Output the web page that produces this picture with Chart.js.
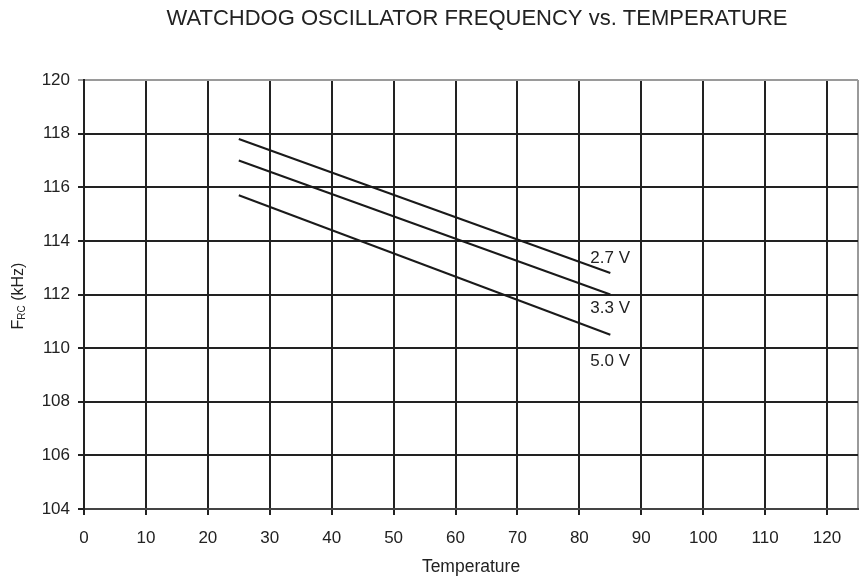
<!DOCTYPE html>
<html>
<head>
<meta charset="utf-8">
<script src="https://cdn.jsdelivr.net/npm/chart.js@4/dist/chart.umd.min.js"></script>
<style>
  html, body { margin: 0; padding: 0; background: #fff; }
  #wrap { width: 859px; height: 579px; position: relative; }
</style>
</head>
<body>
<div id="wrap"><canvas id="c" width="859" height="579"></canvas></div>
<script>
// ---- data ----
const chartTitle = 'WATCHDOG OSCILLATOR FREQUENCY vs. TEMPERATURE';
const xAxisTitle = 'Temperature';
const temperatures = [25, 85];
const freq27 = [117.8, 112.8];
const freq33 = [117.0, 112.0];
const freq50 = [115.7, 110.5];
const seriesNames = ['2.7 V', '3.3 V', '5.0 V'];
const xTickValues = [0, 10, 20, 30, 40, 50, 60, 70, 80, 90, 100, 110, 120];
const yTickValues = [104, 106, 108, 110, 112, 114, 116, 118, 120];
const xMin = 0, xMax = 125;
const yMin = 104, yMax = 120;

const FONT = '"Liberation Sans", Arial, sans-serif';
const INK = '#222';
const LIGHT = '#9a9a9a';

function pts(ys) { return temperatures.map((t, i) => ({ x: t, y: ys[i] })); }

const labelOffsets = [[-20, -10], [-20, 18], [-20, 31]];

const decorPlugin = {
  id: 'decor',
  afterDatasetsDraw(chart) {
    const ctx = chart.ctx;
    ctx.save();
    // series labels
    ctx.fillStyle = INK;
    ctx.font = '17px ' + FONT;
    ctx.textAlign = 'left';
    ctx.textBaseline = 'alphabetic';
    chart.data.datasets.forEach((ds, i) => {
      const meta = chart.getDatasetMeta(i);
      const p = meta.data[meta.data.length - 1];
      const off = labelOffsets[i];
      ctx.fillText(ds.label, p.x + off[0], p.y + off[1]);
    });
    // title
    ctx.font = '22px ' + FONT;
    ctx.textAlign = 'center';
    ctx.fillText(chartTitle, 477, 25);
    // y axis title with subscript
    ctx.translate(23, 296);
    ctx.rotate(-Math.PI / 2);
    const f1 = '16px ' + FONT, f2 = '10px ' + FONT;
    ctx.font = f1; const wF = ctx.measureText('F').width;
    const wRest = ctx.measureText(' (kHz)').width;
    ctx.font = f2; const wRC = ctx.measureText('RC').width;
    const total = wF + wRC + wRest;
    let x = -total / 2;
    ctx.textAlign = 'left';
    ctx.font = f1; ctx.fillText('F', x, 0); x += wF;
    ctx.font = f2; ctx.fillText('RC', x, 2); x += wRC;
    ctx.font = f1; ctx.fillText(' (kHz)', x, 0);
    ctx.restore();
  }
};

new Chart(document.getElementById('c'), {
  type: 'line',
  data: {
    datasets: [
      { label: seriesNames[0], data: pts(freq27) },
      { label: seriesNames[1], data: pts(freq33) },
      { label: seriesNames[2], data: pts(freq50) }
    ].map(d => Object.assign(d, {
      borderColor: '#1a1a1a', borderWidth: 2, pointRadius: 0, fill: false, tension: 0
    }))
  },
  options: {
    responsive: false,
    animation: false,
    devicePixelRatio: 1,
    layout: { padding: { top: 80, right: 1, left: 0, bottom: 0 } },
    plugins: { legend: { display: false }, title: { display: false }, tooltip: { enabled: false } },
    scales: {
      x: {
        type: 'linear', min: xMin, max: xMax,
        afterBuildTicks: s => { s.ticks = xTickValues.concat([xMax]).map(v => ({ value: v })); },
        ticks: {
          color: INK, padding: 13,
          font: { family: FONT, size: 17 },
          maxRotation: 0, autoSkip: false,
          callback: v => (xTickValues.includes(v) ? String(v) : '')
        },
        grid: {
          color: c => (c.tick && c.tick.value === xMax) ? LIGHT : INK,
          tickColor: c => (c.tick && c.tick.value === xMax) ? 'rgba(0,0,0,0)' : INK,
          lineWidth: 2, tickLength: 6, drawTicks: true
        },
        border: { color: '#444', width: 2 },
        title: {
          display: true, text: xAxisTitle, color: INK,
          font: { family: FONT, size: 17.5 }, padding: { top: 0, bottom: 1 }
        },
        afterFit: s => { s.height = 70; s.paddingLeft = 0; s.paddingRight = 0; }
      },
      y: {
        min: yMin, max: yMax,
        afterBuildTicks: s => { s.ticks = yTickValues.map(v => ({ value: v })); },
        ticks: {
          color: INK, padding: 8,
          font: { family: FONT, size: 17 }
        },
        grid: {
          color: c => (c.tick && c.tick.value === yMax) ? LIGHT : INK,
          lineWidth: 2, tickLength: 6
        },
        border: { color: INK, width: 2 },
        afterFit: s => { s.width = 84; }
      }
    }
  },
  plugins: [decorPlugin]
});
</script>
</body>
</html>
